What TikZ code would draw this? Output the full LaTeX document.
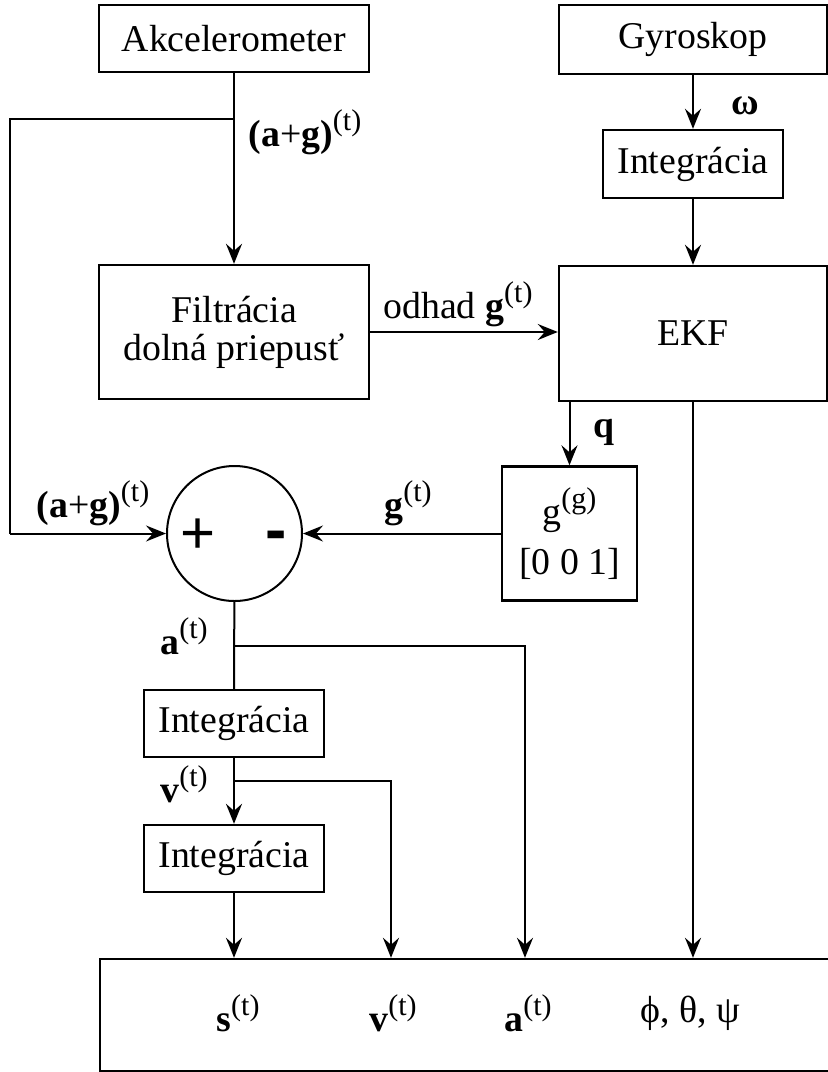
\documentclass[tikz,border=0pt]{standalone}
\usepackage{fontspec}
\setmainfont{Liberation Serif}
\newfontfamily\arialfont{Liberation Sans}
\usetikzlibrary{arrows.meta}

\newcommand{\tsup}[1]{\raisebox{0.42em}{\fontsize{15}{15}\selectfont #1}}

\tikzset{
  blok/.style={draw, line width=1.2pt, inner sep=0pt, align=center},
  spoj/.style={line width=1pt},
  sip/.style={spoj, -{Stealth[length=10pt,width=8pt,inset=3.5pt]}},
  popis/.style={inner sep=0pt},
}

\begin{document}
\begin{tikzpicture}[x=0.5pt,y=-0.5pt,font=\fontsize{18.9}{23}\selectfont]
\useasboundingbox (0,0) rectangle (828,1072);
\clip (0,0) rectangle (828,1072);

% senzory
\node[blok, minimum width=135pt, minimum height=33.5pt] (akc) at (234,38.5) {Akcelerometer};
\node[blok, minimum width=134pt, minimum height=34.5pt] (gyr) at (693,39.5) {Gyroskop};
\node[blok, minimum width=90pt, minimum height=34pt] (intg) at (693,164) {Integrácia};

% filtracia a EKF
\node[blok, minimum width=135pt, minimum height=67pt, font=\fontsize{18.9}{19}\selectfont] (fil) at (234,332) {Filtrácia\\dolná priepusť};
\node[blok, minimum width=134pt, minimum height=67.5pt] (ekf) at (693,333.5) {EKF};
\node[blok, minimum width=67.5pt, minimum height=67pt, font=\fontsize{18.9}{25}\selectfont] (grav) at (569.5,533.5) {g\tsup{(g)}\\{[}0 0 1{]}};
\node[draw, circle, line width=1pt, minimum size=67.5pt, inner sep=0pt] (sum) at (234.5,533.5) {};
\node[popis] (plus) at (198,536) {\arialfont\fontsize{30}{30}\selectfont +};
\node[popis] (minus) at (276,541) {\arialfont\bfseries\fontsize{32}{32}\selectfont -};

% integracie
\node[blok, minimum width=90pt, minimum height=33.5pt] (int1) at (234,723.5) {Integrácia};
\node[blok, minimum width=90pt, minimum height=33.5pt] (int2) at (234,858.5) {Integrácia};

% vystup
\node[blok, minimum width=400pt, minimum height=56pt] (out) at (500,1015) {};

% rozvetvenia
\coordinate (rozv) at (234,119);
\coordinate (lh) at (10,119);
\coordinate (ld) at (10,533.5);
\coordinate (arozv) at (234,646);
\coordinate (ar) at (525,646);
\coordinate (vrozv) at (234,781);
\coordinate (vr) at (391,781);

% spoje
\draw[sip] (akc) -- (fil);
\draw[spoj] (rozv) -- (lh) -- (ld);
\draw[sip] (ld) -- (sum);
\draw[sip] (gyr) -- (intg);
\draw[sip] (intg) -- (ekf);
\draw[sip] (fil.east) -- (fil.east -| ekf.west);
\draw[sip] (ekf.south -| grav.north) -- (grav.north);
\draw[sip] (grav) -- (sum);
\draw[sip] (ekf) -- (ekf |- out.north);
\draw[spoj] (sum) -- (int1);
\draw[sip] (arozv) -- (ar) -- (ar |- out.north);
\draw[sip] (int1) -- (int2);
\draw[sip] (vrozv) -- (vr) -- (vr |- out.north);
\draw[sip] (int2) -- (int2 |- out.north);

% popisy
\node[popis] (lag1) at (305,132) {\textbf{(a}+\textbf{g)}\tsup{(t)}};
\node[popis] (lom) at (745,106) {\textbf{ω}};
\node[popis] (lodh) at (458,304) {odhad \textbf{g}\tsup{(t)}};
\node[popis] (lq) at (604,432) {\textbf{q}};
\node[popis] (lg) at (408,503) {\textbf{g}\tsup{(t)}};
\node[popis] (lag2) at (93,503) {\textbf{(a}+\textbf{g)}\tsup{(t)}};
\node[popis] (la) at (184,636) {\textbf{a}\tsup{(t)}};
\node[popis] (lv) at (184,784) {\textbf{v}\tsup{(t)}};

\node[popis] (os) at (238,1013) {\textbf{s}\tsup{(t)}};
\node[popis] (ov) at (393,1013) {\textbf{v}\tsup{(t)}};
\node[popis] (oa) at (528,1013) {\textbf{a}\tsup{(t)}};
\node[popis] (ouhly) at (690,1013) {ϕ, θ, ψ};
\end{tikzpicture}
\end{document}
